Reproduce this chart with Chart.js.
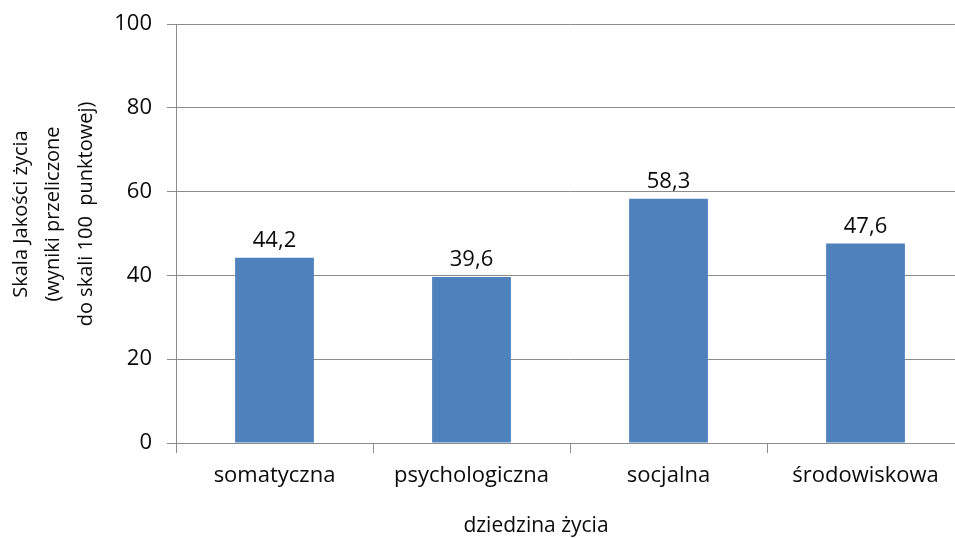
<!DOCTYPE html>
<html>
<head>
<meta charset="utf-8">
<script src="https://cdn.jsdelivr.net/npm/chart.js@4"></script>
<style>
    html, body { margin: 0; padding: 0; background: #fff; overflow: hidden; }
    #wrap { width: 966px; height: 538px; }
</style>
</head>
<body>
<div id="wrap"><canvas id="Chart" width="966" height="538"></canvas></div>
<script>
const categories = ["somatyczna", "psychologiczna", "socjalna", "środowiskowa"];
const values = [44.2, 39.6, 58.3, 47.6];
const yTicks = [0, 20, 40, 60, 80, 100];
const yTitle = ["Skala Jakości życia", "(wyniki przeliczone", "do skali 100  punktowej)"];
const xTitle = "dziedzina życia";

const fontFamily = "'Open Sans', 'Noto Sans', sans-serif";
const axisGrey = "#8c8c8c";
const textColor = "#0a0a0a";

// value labels above the bars, polish decimal comma
const barLabels = {
    id: "barLabels",
    afterDatasetsDraw(chart) {
        const ctx = chart.ctx;
        const meta = chart.getDatasetMeta(0);
        ctx.save();
        ctx.font = "22px " + fontFamily;
        ctx.fillStyle = textColor;
        ctx.textAlign = "center";
        ctx.textBaseline = "alphabetic";
        meta.data.forEach((bar, i) => {
            ctx.fillText(values[i].toFixed(1).replace(".", ","), bar.x, bar.y - 11);
        });
        ctx.restore();
    }
};

// axis titles, placed like in the original (not centred on the plot)
const axisTitles = {
    id: "axisTitles",
    afterDraw(chart) {
        const ctx = chart.ctx;
        ctx.save();
        ctx.fillStyle = textColor;
        ctx.textAlign = "center";
        ctx.textBaseline = "middle";

        ctx.font = "21px " + fontFamily;
        ctx.fillText(xTitle, 536, 526);

        ctx.font = "20px " + fontFamily;
        yTitle.forEach((line, i) => {
            ctx.save();
            ctx.translate(21 + i * 32.5, 214);
            ctx.rotate(-Math.PI / 2);
            ctx.fillText(line, 0, 0);
            ctx.restore();
        });
        ctx.restore();
    }
};

const dataBar = {
    labels: categories,
    datasets: [{
        data: values,
        backgroundColor: "#4f81bd",
        borderWidth: 0,
        barPercentage: 0.4,
        categoryPercentage: 1.0
    }]
};

const optionsBar = {
    responsive: false,
    animation: false,
    layout: { padding: { top: 24, left: 0, right: 2, bottom: 0 } },
    plugins: {
        legend: { display: false },
        tooltip: { enabled: false }
    },
    scales: {
        x: {
            offset: true,
            grid: {
                offset: true,
                drawOnChartArea: false,
                color: axisGrey,
                tickLength: 10
            },
            border: { color: axisGrey },
            ticks: {
                color: textColor,
                padding: 10,
                font: { family: fontFamily, size: 22 }
            },
            afterFit(scale) {
                scale.height = 95;
                scale.paddingLeft = 0;
                scale.paddingRight = 0;
            }
        },
        y: {
            min: 0,
            max: 100,
            afterBuildTicks(scale) {
                scale.ticks = yTicks.map(v => ({ value: v }));
            },
            grid: {
                color: axisGrey,
                tickLength: 9
            },
            border: { color: axisGrey },
            ticks: {
                color: textColor,
                padding: 15,
                font: { family: fontFamily, size: 22 }
            },
            afterFit(scale) {
                scale.width = 176;
                scale.paddingTop = 0;
                scale.paddingBottom = 0;
            }
        }
    }
};

let barChartElement = document.getElementById("Chart").getContext("2d");
let barChart = new Chart(barChartElement, {
    type: "bar",
    data: dataBar,
    options: optionsBar,
    plugins: [barLabels, axisTitles]
});
</script>
</body>
</html>
